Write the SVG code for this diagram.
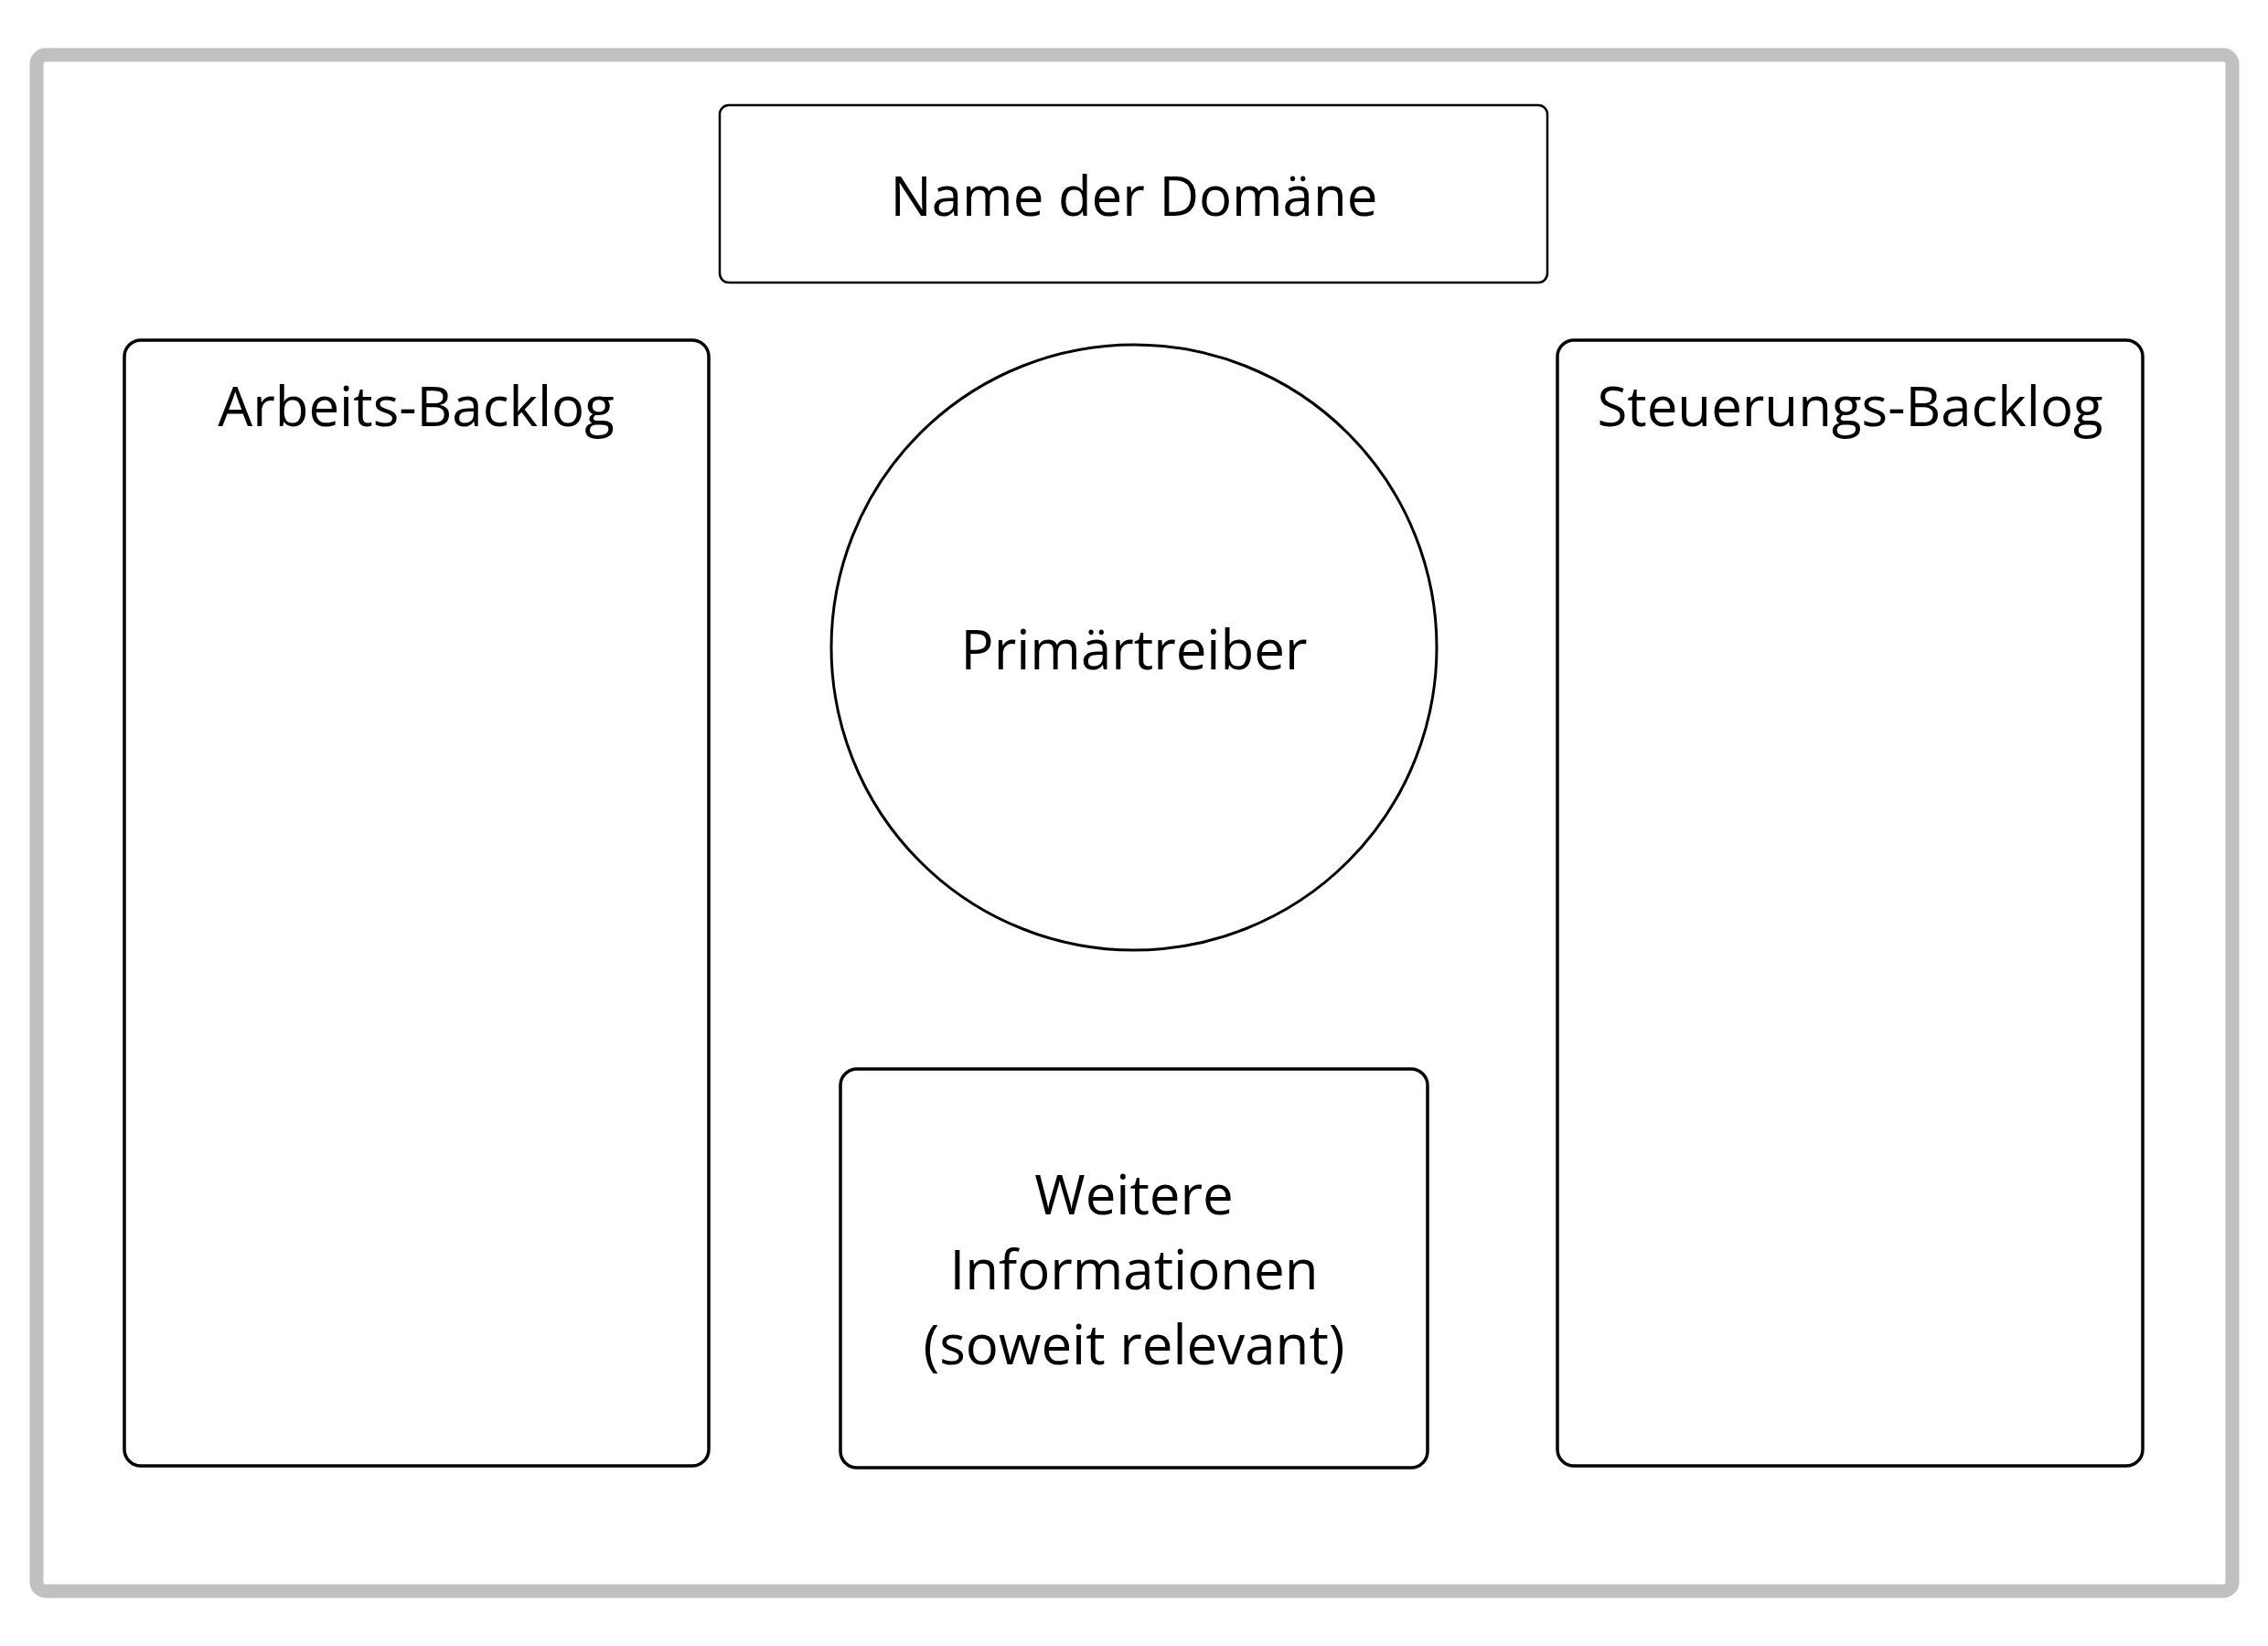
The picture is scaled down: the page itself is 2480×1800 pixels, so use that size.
<svg xmlns="http://www.w3.org/2000/svg" width="2480" height="1800" viewBox="0 0 2480 1800">
<style>
.box{fill:#fff;stroke:#000;stroke-width:3.5}
.thin{fill:#fff;stroke:#000;stroke-width:2.5}
.circ{fill:#fff;stroke:#000;stroke-width:3}
text{font-family:"Open Sans","Noto Sans","Liberation Sans",sans-serif;font-size:60px;fill:#000;text-anchor:middle}
</style>
<rect x="0" y="0" width="2480" height="1800" fill="#fff"/>
<rect id="frame" x="40" y="60" width="2401" height="1680" rx="10" fill="#fff" stroke="#c0c0c0" stroke-width="15"/>
<g id="connectors"></g>
<g id="name">
<rect class="thin" x="787" y="115" width="905" height="194" rx="10"/>
<text x="1240" y="236">Name der Domäne</text>
</g>
<g id="arbeits">
<rect class="box" x="136" y="372" width="639" height="1231" rx="18"/>
<text x="455" y="466">Arbeits-Backlog</text>
</g>
<g id="steuerung">
<rect class="box" x="1703" y="372" width="640" height="1231" rx="18"/>
<text x="2023" y="466">Steuerungs-Backlog</text>
</g>
<g id="primaer">
<circle class="circ" cx="1240" cy="708" r="331"/>
<text x="1240" y="732">Primärtreiber</text>
</g>
<g id="weitere">
<rect class="box" x="919" y="1169" width="642" height="436" rx="18"/>
<text x="1240" y="1328">Weitere</text>
<text x="1240" y="1410">Informationen</text>
<text x="1240" y="1492">(soweit relevant)</text>
</g>
</svg>
